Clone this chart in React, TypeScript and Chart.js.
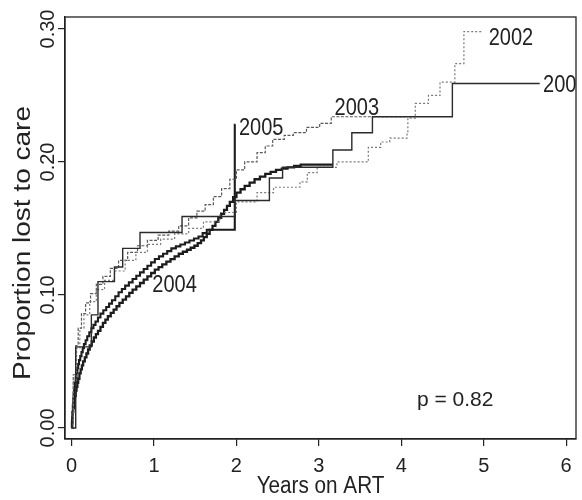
import React, { useEffect, useRef } from "react";
import { Chart, registerables } from "chart.js";

Chart.register(...registerables);

// ---- axis text & ticks ----
const X_TICKS = [0, 1, 2, 3, 4, 5, 6];
const X_TICK_LABELS = ["0", "1", "2", "3", "4", "5", "6"];
const Y_TICKS = [0, 0.1, 0.2, 0.3];
const Y_TICK_LABELS = ["0.00", "0.10", "0.20", "0.30"];
const X_TITLE = "Years on ART";
const Y_TITLE = "Proportion lost to care";
const P_TEXT = "p = 0.82";

// ---- series (time in years, cumulative proportion lost) ----
const T2001 = [0, 0.05, 0.24, 0.32, 0.52, 0.62, 0.83, 1.34, 1.98, 2.4, 2.56, 3.17, 3.4, 3.65, 4.62, 5.68];
const S2001 = [0, 0.061, 0.085, 0.11, 0.121, 0.135, 0.147, 0.159, 0.171, 0.188, 0.196, 0.209, 0.222, 0.234, 0.259, 0.259];

const T2002 = [0, 0.02, 0.06, 0.1, 0.15, 0.22, 0.3, 0.4, 0.52, 0.65, 0.78, 0.92, 1.08, 1.25, 1.42, 1.6, 1.8, 2.0, 2.25, 2.45, 2.77, 2.86, 2.98, 3.22, 3.6, 3.75, 3.86, 4.07, 4.08, 4.17, 4.33, 4.47, 4.65, 4.76, 4.98];
const S2002 = [0, 0.035, 0.06, 0.075, 0.085, 0.095, 0.104, 0.111, 0.118, 0.126, 0.132, 0.138, 0.142, 0.146, 0.15, 0.155, 0.162, 0.17, 0.177, 0.181, 0.185, 0.192, 0.196, 0.2, 0.211, 0.215, 0.218, 0.222, 0.233, 0.244, 0.25, 0.26, 0.274, 0.298, 0.298];

const T2003 = [0, 0.02, 0.05, 0.08, 0.12, 0.17, 0.23, 0.3, 0.38, 0.47, 0.57, 0.68, 0.8, 0.92, 1.05, 1.18, 1.3, 1.42, 1.52, 1.62, 1.72, 1.82, 1.92, 2.0, 2.1, 2.25, 2.35, 2.44, 2.58, 2.69, 2.85, 3.01, 3.15, 4.05];
const S2003 = [0, 0.04, 0.062, 0.075, 0.086, 0.094, 0.101, 0.108, 0.114, 0.12, 0.126, 0.132, 0.137, 0.141, 0.145, 0.148, 0.152, 0.158, 0.163, 0.168, 0.174, 0.18, 0.187, 0.194, 0.2, 0.207, 0.212, 0.217, 0.22, 0.222, 0.226, 0.229, 0.234, 0.234];

const T2004 = [0, 0.005, 0.01, 0.015, 0.02, 0.03, 0.04, 0.05, 0.06, 0.07, 0.08, 0.095, 0.11, 0.125, 0.14, 0.16, 0.18, 0.2, 0.22, 0.245, 0.27, 0.295, 0.32, 0.35, 0.38, 0.41, 0.44, 0.475, 0.51, 0.545, 0.58, 0.62, 0.66, 0.7, 0.74, 0.785, 0.83, 0.875, 0.92, 0.965, 1.01, 1.055, 1.1, 1.15, 1.2, 1.25, 1.3, 1.35, 1.4, 1.445, 1.49, 1.53, 1.57, 1.605, 1.64, 1.675, 1.71, 1.745, 1.78, 1.815, 1.85, 1.885, 1.92, 1.96, 2.0, 2.05, 2.1, 2.16, 2.22, 2.285, 2.35, 2.415, 2.48, 2.55, 2.62, 2.7, 2.78, 3.17];
const S2004 = [0, 0.004, 0.008, 0.012, 0.015, 0.02, 0.024, 0.028, 0.031, 0.034, 0.037, 0.041, 0.044, 0.047, 0.05, 0.053, 0.056, 0.059, 0.062, 0.065, 0.068, 0.0705, 0.073, 0.076, 0.079, 0.0815, 0.084, 0.0865, 0.089, 0.0915, 0.094, 0.0965, 0.099, 0.1015, 0.104, 0.1065, 0.109, 0.1115, 0.114, 0.1165, 0.119, 0.121, 0.123, 0.125, 0.127, 0.129, 0.131, 0.1325, 0.134, 0.1355, 0.137, 0.139, 0.141, 0.1435, 0.146, 0.149, 0.152, 0.155, 0.158, 0.161, 0.164, 0.167, 0.17, 0.1735, 0.177, 0.1795, 0.182, 0.1845, 0.187, 0.189, 0.191, 0.1925, 0.194, 0.195, 0.196, 0.197, 0.198, 0.198];

const T2005 = [0, 0.005, 0.01, 0.015, 0.02, 0.025, 0.03, 0.04, 0.05, 0.06, 0.07, 0.08, 0.09, 0.105, 0.12, 0.135, 0.15, 0.17, 0.19, 0.215, 0.24, 0.265, 0.29, 0.32, 0.35, 0.385, 0.42, 0.455, 0.49, 0.53, 0.57, 0.61, 0.65, 0.695, 0.74, 0.785, 0.83, 0.875, 0.92, 0.965, 1.01, 1.06, 1.11, 1.16, 1.21, 1.265, 1.32, 1.375, 1.43, 1.485, 1.54, 1.59, 1.64, 1.98, 1.99];
const S2005 = [0, 0.006, 0.012, 0.017, 0.022, 0.026, 0.03, 0.034, 0.038, 0.0415, 0.045, 0.048, 0.051, 0.054, 0.057, 0.06, 0.063, 0.066, 0.069, 0.072, 0.075, 0.0775, 0.08, 0.083, 0.086, 0.0885, 0.091, 0.0935, 0.096, 0.099, 0.102, 0.1045, 0.107, 0.1095, 0.112, 0.1145, 0.117, 0.1195, 0.122, 0.1245, 0.127, 0.129, 0.131, 0.133, 0.135, 0.1365, 0.138, 0.1395, 0.141, 0.1425, 0.144, 0.1465, 0.149, 0.228, 0.228];

const SERIES_NAMES = ["2001", "2002", "2003", "2004", "2005"];
// label anchors (data coords: left edge, baseline)
const LABEL_X = [5.72, 5.06, 3.19, 0.98, 2.03];
const LABEL_Y = [0.2526, 0.288, 0.235, 0.102, 0.22];
const P_POS = [4.19, 0.0165];

const FONT = '"Liberation Sans", Arial, Helvetica, sans-serif';
const INK = "#222222";

function pts(t: number[], s: number[]) {
  return t.map((v, i) => ({ x: v, y: s[i] }));
}

function drawText(
  ctx: CanvasRenderingContext2D,
  text: string,
  x: number,
  y: number,
  size: number,
  o: { rot?: number; sx?: number; sy?: number; align?: CanvasTextAlign; base?: CanvasTextBaseline } = {}
) {
  ctx.save();
  ctx.translate(x, y);
  if (o.rot) ctx.rotate(o.rot);
  ctx.scale(o.sx ?? 1, o.sy ?? 1);
  ctx.font = `${size}px ${FONT}`;
  ctx.fillStyle = INK;
  ctx.textAlign = o.align ?? "left";
  ctx.textBaseline = o.base ?? "alphabetic";
  ctx.fillText(text, 0, 0);
  ctx.restore();
}

const textPlugin = {
  id: "rtext",
  afterDraw(chart: any) {
    const { ctx, chartArea: ca, scales } = chart;
    const xs = scales.x;
    const ys = scales.y;
    ctx.save();
    // plot box
    ctx.strokeStyle = INK;
    ctx.lineWidth = 1.3;
    ctx.strokeRect(ca.left, ca.top, ca.right - ca.left, ca.bottom - ca.top);

    // x tick labels
    X_TICKS.forEach((v, i) => {
      drawText(ctx, X_TICK_LABELS[i], xs.getPixelForValue(v), 472, 20, { align: "center" });
    });
    // y tick labels (rotated)
    Y_TICKS.forEach((v, i) => {
      drawText(ctx, Y_TICK_LABELS[i], 54, ys.getPixelForValue(v), 20, {
        rot: -Math.PI / 2,
        align: "center",
      });
    });
    // axis titles
    drawText(ctx, X_TITLE, (ca.left + ca.right) / 2, 493, 23, { align: "center", sx: 0.9 });
    drawText(ctx, Y_TITLE, 30, 243, 28, { rot: -Math.PI / 2, align: "center", sy: 0.85 });

    // in-plot labels (clipped like R)
    ctx.beginPath();
    ctx.rect(ca.left, ca.top, ca.right - ca.left, ca.bottom - ca.top);
    ctx.clip();
    SERIES_NAMES.forEach((n, i) => {
      drawText(ctx, n, xs.getPixelForValue(LABEL_X[i]), ys.getPixelForValue(LABEL_Y[i]), 23, { sx: 0.87 });
    });
    drawText(ctx, P_TEXT, xs.getPixelForValue(P_POS[0]), ys.getPixelForValue(P_POS[1]), 21);
    ctx.restore();
  },
};

export default function App() {
  const ref = useRef<HTMLCanvasElement | null>(null);
  useEffect(() => {
    if (!ref.current) return;
    const axisCommon = {
      type: "linear" as const,
      ticks: { display: false },
      grid: { drawOnChartArea: false, drawTicks: true, tickLength: 7, color: INK, lineWidth: 1.2 },
      border: { display: true, color: INK, width: 1.3 },
    };
    const chart = new Chart(ref.current, {
      type: "line",
      data: {
        datasets: [
          { label: "2001", data: pts(T2001, S2001), borderColor: "#2b2b2b", borderWidth: 1.4 },
          { label: "2002", data: pts(T2002, S2002), borderColor: "#7a7a7a", borderWidth: 1.2, borderDash: [2, 2] },
          { label: "2003", data: pts(T2003, S2003), borderColor: "#5a5a5a", borderWidth: 1.2, borderDash: [3, 1.5] },
          { label: "2004", data: pts(T2004, S2004), borderColor: "#1c1c1c", borderWidth: 2.3 },
          { label: "2005", data: pts(T2005, S2005), borderColor: "#1c1c1c", borderWidth: 2.1 },
        ].map((d) => ({ ...d, stepped: "before" as const, pointRadius: 0, fill: false, tension: 0 })),
      },
      options: {
        animation: false,
        responsive: false,
        devicePixelRatio: 1,
        parsing: false as any,
        layout: { padding: { top: 17, right: 6, left: 0, bottom: 0 } },
        plugins: { legend: { display: false }, tooltip: { enabled: false } },
        scales: {
          x: {
            ...axisCommon,
            min: -0.08,
            max: 6.12,
            afterBuildTicks: (s: any) => {
              s.ticks = X_TICKS.map((v) => ({ value: v }));
            },
            afterFit: (s: any) => {
              s.height = 61;
            },
          },
          y: {
            ...axisCommon,
            min: -0.0083,
            max: 0.309,
            afterBuildTicks: (s: any) => {
              s.ticks = Y_TICKS.map((v) => ({ value: v }));
            },
            afterFit: (s: any) => {
              s.width = 65;
            },
          },
        },
      } as any,
      plugins: [textPlugin],
    });
    return () => chart.destroy();
  }, []);
  return (
    <div style={{ position: "absolute", left: 0, top: 0, width: 582, height: 500, background: "#fff" }}>
      <canvas ref={ref} width={582} height={500} style={{ display: "block" }} />
    </div>
  );
}
